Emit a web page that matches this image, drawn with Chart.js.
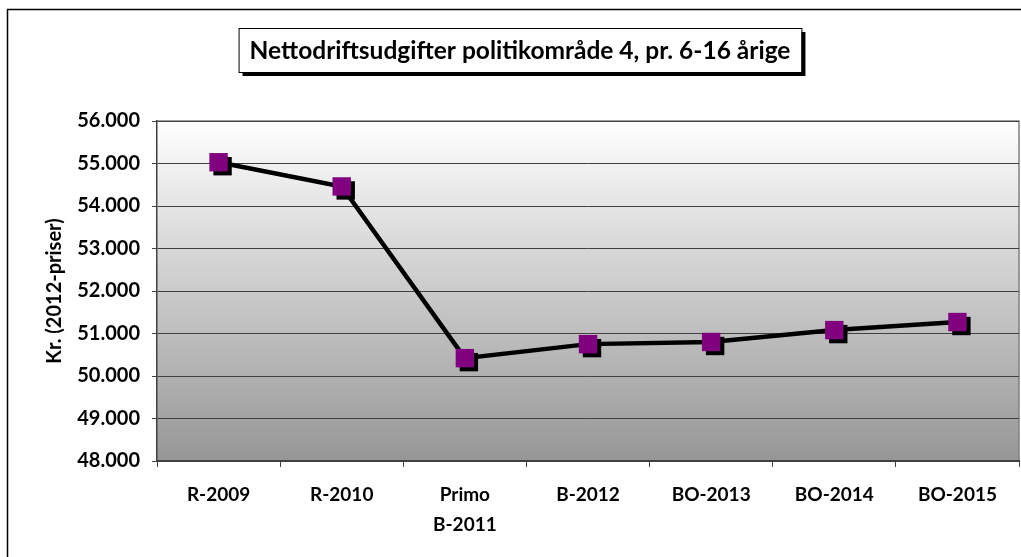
<!DOCTYPE html>
<html lang="da">
<head>
    <meta charset="UTF-8">
    <title>Nettodriftsudgifter politikområde 4</title>
    <script src="https://cdn.jsdelivr.net/npm/chart.js"></script>
    <style>
        html, body { margin: 0; padding: 0; background: #ffffff; }
        #wrap { position: relative; width: 1021px; height: 557px; }
    </style>
</head>
<body>
    <div id="wrap">
        <canvas id="udgiftChart" width="1021" height="557"></canvas>
    </div>

    <script>
        // Data
        const categories = [['R-2009'], ['R-2010'], ['Primo', 'B-2011'], ['B-2012'], ['BO-2013'], ['BO-2014'], ['BO-2015']];
        const values = [55030, 54460, 50420, 50750, 50800, 51080, 51270];
        const yTicks = [48000, 49000, 50000, 51000, 52000, 53000, 54000, 55000, 56000];
        const chartTitle = 'Nettodriftsudgifter politikområde 4, pr. 6-16 årige';
        const yTitle = 'Kr. (2012-priser)';

        const FONT = 'Lato, "Open Sans", sans-serif';

        function fmtKr(v) {
            const s = Math.round(v).toString();
            return s.replace(/\B(?=(\d{3})+(?!\d))/g, '.');
        }

        // Gradient plot area, outer frame and boxed title
        const frame = {
            id: 'frame',
            beforeDraw(chart) {
                const { ctx, chartArea: a } = chart;
                ctx.save();
                ctx.fillStyle = '#ffffff';
                ctx.fillRect(0, 0, chart.width, chart.height);
                const g = ctx.createLinearGradient(0, a.top, 0, a.bottom);
                g.addColorStop(0, '#ffffff');
                g.addColorStop(1, '#969696');
                ctx.fillStyle = g;
                ctx.fillRect(a.left, a.top, a.right - a.left, a.bottom - a.top);
                // plot border (top / right)
                ctx.strokeStyle = '#808080';
                ctx.lineWidth = 1.5;
                ctx.beginPath();
                ctx.moveTo(a.left, a.top);
                ctx.lineTo(a.right, a.top);
                ctx.lineTo(a.right, a.bottom);
                ctx.stroke();
                // outer chart border
                ctx.strokeStyle = '#000000';
                ctx.lineWidth = 1.5;
                ctx.strokeRect(7.5, 9.5, 1040, 600);
                ctx.restore();
            },
            afterDraw(chart) {
                const { ctx } = chart;
                ctx.save();
                ctx.font = 'bold 24.5px ' + FONT;
                const w = ctx.measureText(chartTitle).width;
                const cx = 520, top = 28, h = 44;
                const bw = w + 22;
                const left = cx - bw / 2;
                ctx.fillStyle = '#000000';
                ctx.fillRect(left + 4, top + 4, bw, h);
                ctx.fillStyle = '#ffffff';
                ctx.fillRect(left, top, bw, h);
                ctx.strokeStyle = '#000000';
                ctx.lineWidth = 1;
                ctx.strokeRect(left + 0.5, top + 0.5, bw, h);
                ctx.fillStyle = '#000000';
                ctx.textAlign = 'center';
                ctx.textBaseline = 'middle';
                ctx.fillText(chartTitle, cx, top + h / 2 + 1);
                ctx.restore();
            }
        };

        // Hard black shadow under the markers only
        const dropShadow = {
            id: 'dropShadow',
            beforeDatasetDraw(chart, args) {
                if (args.index !== 0) return;
                const ctx = chart.ctx;
                ctx.save();
                ctx.shadowColor = '#000000';
                ctx.shadowOffsetX = 4;
                ctx.shadowOffsetY = 4;
                ctx.shadowBlur = 0;
            },
            afterDatasetDraw(chart, args) {
                if (args.index !== 0) return;
                chart.ctx.restore();
            }
        };

        new Chart(document.getElementById('udgiftChart'), {
            type: 'line',
            data: {
                labels: categories,
                datasets: [{
                    label: 'markers',
                    data: values,
                    showLine: false,
                    pointStyle: 'rect',
                    pointRadius: 13,
                    pointBackgroundColor: '#800080',
                    pointBorderWidth: 0
                }, {
                    label: chartTitle,
                    data: values,
                    borderColor: '#000000',
                    borderWidth: 4.5,
                    pointRadius: 0,
                    tension: 0
                }]
            },
            options: {
                responsive: false,
                animation: false,
                layout: {
                    autoPadding: false,
                    padding: { left: 36, right: 2, top: 121, bottom: 0 }
                },
                plugins: {
                    legend: { display: false },
                    tooltip: { enabled: false }
                },
                scales: {
                    x: {
                        offset: true,
                        grid: {
                            offset: true,
                            drawOnChartArea: false,
                            color: '#404040',
                            tickLength: 6,
                            tickWidth: 1
                        },
                        border: { color: '#404040', width: 2 },
                        ticks: {
                            color: '#000000',
                            maxRotation: 0,
                            autoSkip: false,
                            padding: 13,
                            font: { family: FONT, size: 19, weight: 'bold', lineHeight: 1.58 }
                        },
                        afterFit(scale) { scale.height = 96; }
                    },
                    y: {
                        min: 48000,
                        max: 56000,
                        afterBuildTicks(scale) {
                            scale.ticks = yTicks.map(v => ({ value: v }));
                        },
                        grid: {
                            color: '#404040',
                            lineWidth: 1,
                            tickLength: 5
                        },
                        border: { color: '#404040', width: 1.5 },
                        ticks: {
                            color: '#000000',
                            padding: 12,
                            font: { family: FONT, size: 20, weight: 'bold' },
                            callback: v => fmtKr(v)
                        },
                        title: {
                            display: true,
                            text: yTitle,
                            color: '#000000',
                            padding: { top: 7, bottom: 0 },
                            font: { family: FONT, size: 20, weight: 'bold' }
                        },
                        afterFit(scale) { scale.width = 121; }
                    }
                }
            },
            plugins: [frame, dropShadow]
        });
    </script>
</body>
</html>
